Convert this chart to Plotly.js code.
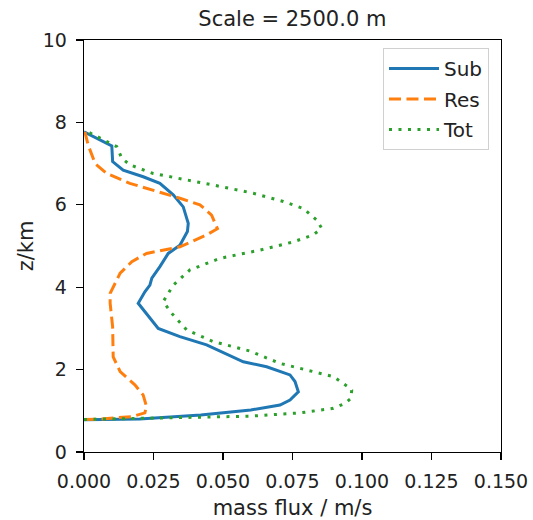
<!DOCTYPE html>
<html>
<head>
<meta charset="utf-8">
<script src="https://cdn.plot.ly/plotly-3.0.1.min.js"></script>
<style>html,body{margin:0;padding:0;background:#fff;}#chart{width:533px;height:520px;}</style>
</head>
<body>
<div id="chart"></div>
<script>
// Sub-grid mass flux (m/s) vs height (km)
const subX = [0, 0.020, 0.042, 0.060, 0.0705, 0.0741, 0.0771, 0.0759, 0.0741, 0.0657, 0.0573, 0.0441, 0.0345, 0.0267, 0.0195, 0.0219, 0.0237, 0.0244, 0.0273, 0.0303, 0.0345, 0.0372, 0.0375, 0.0357, 0.0321, 0.0273, 0.0213, 0.0141, 0.0103, 0.0100, 0.0];
const subZ = [0.78, 0.80, 0.90, 1.02, 1.14, 1.26, 1.46, 1.71, 1.87, 2.07, 2.19, 2.60, 2.80, 3.00, 3.61, 3.89, 4.05, 4.22, 4.50, 4.82, 5.02, 5.35, 5.55, 5.95, 6.24, 6.52, 6.68, 6.84, 7.05, 7.43, 7.77];
// Resolved mass flux
const resX = [0, 0.0058, 0.0172, 0.0219, 0.0225, 0.0213, 0.0183, 0.0130, 0.0105, 0.0103, 0.0094, 0.0094, 0.0130, 0.0172, 0.0225, 0.0345, 0.0441, 0.0480, 0.0459, 0.0417, 0.0345, 0.0261, 0.0165, 0.0082, 0.0040, 0.0015, 0];
const resZ = [0.79, 0.80, 0.86, 0.95, 1.10, 1.38, 1.63, 1.95, 2.31, 3.04, 3.61, 3.85, 4.34, 4.62, 4.82, 4.98, 5.27, 5.42, 5.75, 6.00, 6.16, 6.32, 6.52, 6.76, 7.00, 7.45, 7.86];
// Total mass flux
const totX = [0, 0.0429, 0.0597, 0.0777, 0.0897, 0.0939, 0.0960, 0.0963, 0.0957, 0.0897, 0.0753, 0.0705, 0.0597, 0.0465, 0.0370, 0.0315, 0.0285, 0.0321, 0.0381, 0.0489, 0.0633, 0.0753, 0.0825, 0.0855, 0.0837, 0.0789, 0.0717, 0.0609, 0.0465, 0.0345, 0.0249, 0.0165, 0.0136, 0.0118, 0.0058, 0];
const totZ = [0.79, 0.84, 0.87, 0.95, 1.06, 1.18, 1.30, 1.50, 1.55, 1.83, 2.07, 2.15, 2.45, 2.68, 2.96, 3.37, 3.65, 4.05, 4.42, 4.70, 4.90, 5.10, 5.27, 5.43, 5.63, 5.91, 6.08, 6.28, 6.48, 6.64, 6.76, 6.97, 7.13, 7.41, 7.61, 7.82];

const xTicks = [0, 0.025, 0.05, 0.075, 0.1, 0.125, 0.15];
const yTicks = [0, 2, 4, 6, 8, 10];
const names = ['Sub', 'Res', 'Tot'];
const titleText = 'Scale = 2500.0 m';

const FONT = 'DejaVu Sans, sans-serif';
const LW = 3.0;
const data = [
  {x: subX, y: subZ, name: names[0], mode: 'lines', legendgroup: 'a',
   line: {color: '#1f77b4', width: LW}},
  {x: resX, y: resZ, name: names[1], mode: 'lines', legendgroup: 'b',
   line: {color: '#ff7f0e', width: LW, dash: '12px,5.5px'}},
  {x: totX, y: totZ, name: names[2], mode: 'lines', legendgroup: 'c',
   line: {color: '#2ca02c', width: LW, dash: '3px,6.5px'}}
];
const axisCommon = {
  showgrid: false, zeroline: false, showline: true, mirror: true,
  linecolor: '#000', linewidth: 1.3, ticks: 'outside', ticklen: 7,
  tickwidth: 1.3, tickcolor: '#000', automargin: false, ticklabelstandoff: 5,
  tickfont: {family: FONT, size: 19, color: '#222'}
};
const layout = {
  width: 533, height: 520,
  margin: {l: 84, r: 32, t: 40, b: 68},
  paper_bgcolor: '#fff', plot_bgcolor: '#fff',
  font: {family: FONT, color: '#222'},
  title: {text: titleText, font: {family: FONT, size: 21, color: '#222'},
          x: 0.5485, xanchor: 'center', y: 0.965, yanchor: 'middle'},
  xaxis: Object.assign({}, axisCommon, {
    range: [0, 0.15], tickvals: xTicks, tickformat: '.3f',
    title: {text: 'mass flux / m/s', font: {family: FONT, size: 21, color: '#222'}, standoff: 10}
  }),
  yaxis: Object.assign({}, axisCommon, {
    range: [0, 10], tickvals: yTicks,
    title: {text: 'z/km', font: {family: FONT, size: 21, color: '#222'}, standoff: 3}
  }),
  showlegend: true,
  legend: {x: 0.9712, xanchor: 'right', y: 0.9806, yanchor: 'top',
           bgcolor: '#fff', bordercolor: '#d0d0d0', borderwidth: 1,
           font: {family: FONT, size: 20, color: '#222'},
           itemwidth: 50,
           traceorder: 'grouped', tracegroupgap: 1.5}
};
Plotly.newPlot('chart', data, layout, {staticPlot: true, displayModeBar: false});
</script>
</body>
</html>
